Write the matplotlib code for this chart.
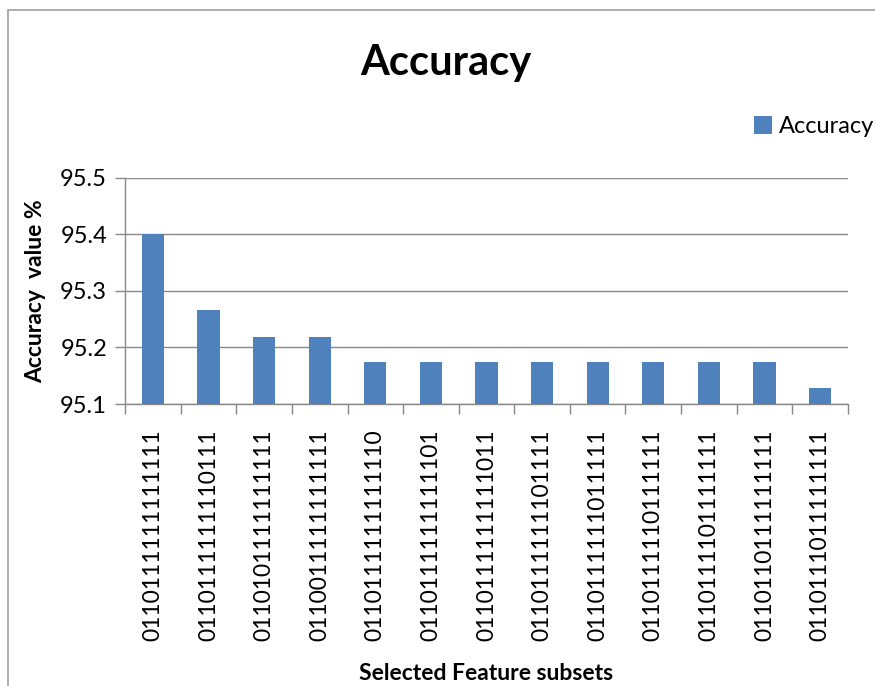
import matplotlib.pyplot as plt
import numpy as np
from matplotlib.patches import Rectangle

plt.rcParams['font.family'] = ['Lato', 'DejaVu Sans']

subsets = ['0110111111111111', '0110111111110111', '0110101111111111',
           '0110011111111111', '0110111111111110', '0110111111111101',
           '0110111111111011', '0110111111101111', '0110111111011111',
           '0110111110111111', '0110111101111111', '0110110111111111',
           '0110111011111111']
accuracy = [95.40, 95.267, 95.219, 95.219, 95.174, 95.174, 95.174,
            95.174, 95.174, 95.174, 95.174, 95.174, 95.128]

fig = plt.figure(figsize=(8.75, 6.86), dpi=100)
# chart frame (only top/left visible in the reference)
fig.patches.append(Rectangle((8 / 875, -0.1), 2, 1 - 10 / 686 + 0.1,
                             transform=fig.transFigure, fill=False,
                             edgecolor='#a0a0a0', lw=1.2))

ax = fig.add_axes([0.143, 0.411, 0.826, 0.33])
x = np.arange(len(subsets))
ax.bar(x, accuracy, width=0.4, color='#4f81bd', label='Accuracy', zorder=3)

ax.set_ylim(95.1, 95.5)
ax.set_yticks([95.1, 95.2, 95.3, 95.4, 95.5])
ax.set_xlim(-0.5, len(subsets) - 0.5)
ax.set_xticks(x)
ax.set_xticklabels(subsets, rotation=90, fontsize=16.5)
ax.set_xticks(np.arange(len(subsets) + 1) - 0.5, minor=True)
ax.tick_params(axis='x', which='major', length=0, pad=18)
ax.tick_params(axis='x', which='minor', length=7, color='#888888', width=1)
ax.tick_params(axis='y', length=7, color='#888888', width=1, labelsize=17, pad=6)
ax.yaxis.grid(True, color='#888888', lw=1, zorder=0)

for s in ['top', 'right']:
    ax.spines[s].set_visible(False)
for s in ['left', 'bottom']:
    ax.spines[s].set_color('#888888')
    ax.spines[s].set_linewidth(1)

ax.set_ylabel('Accuracy  value %', fontsize=16.5, fontweight='bold', labelpad=10)
ax.set_xlabel('Selected Feature subsets', fontsize=16.5, fontweight='bold', labelpad=16)
fig.text(0.509, 0.908, 'Accuracy', ha='center', va='center',
         fontsize=30, fontweight='bold')

ax.legend(loc='center left', bbox_to_anchor=(0.857, 1.225), frameon=False,
          fontsize=17, handlelength=0.75, handleheight=0.75, handletextpad=0.3,
          borderaxespad=0)

plt.savefig('out.png', dpi=100)
